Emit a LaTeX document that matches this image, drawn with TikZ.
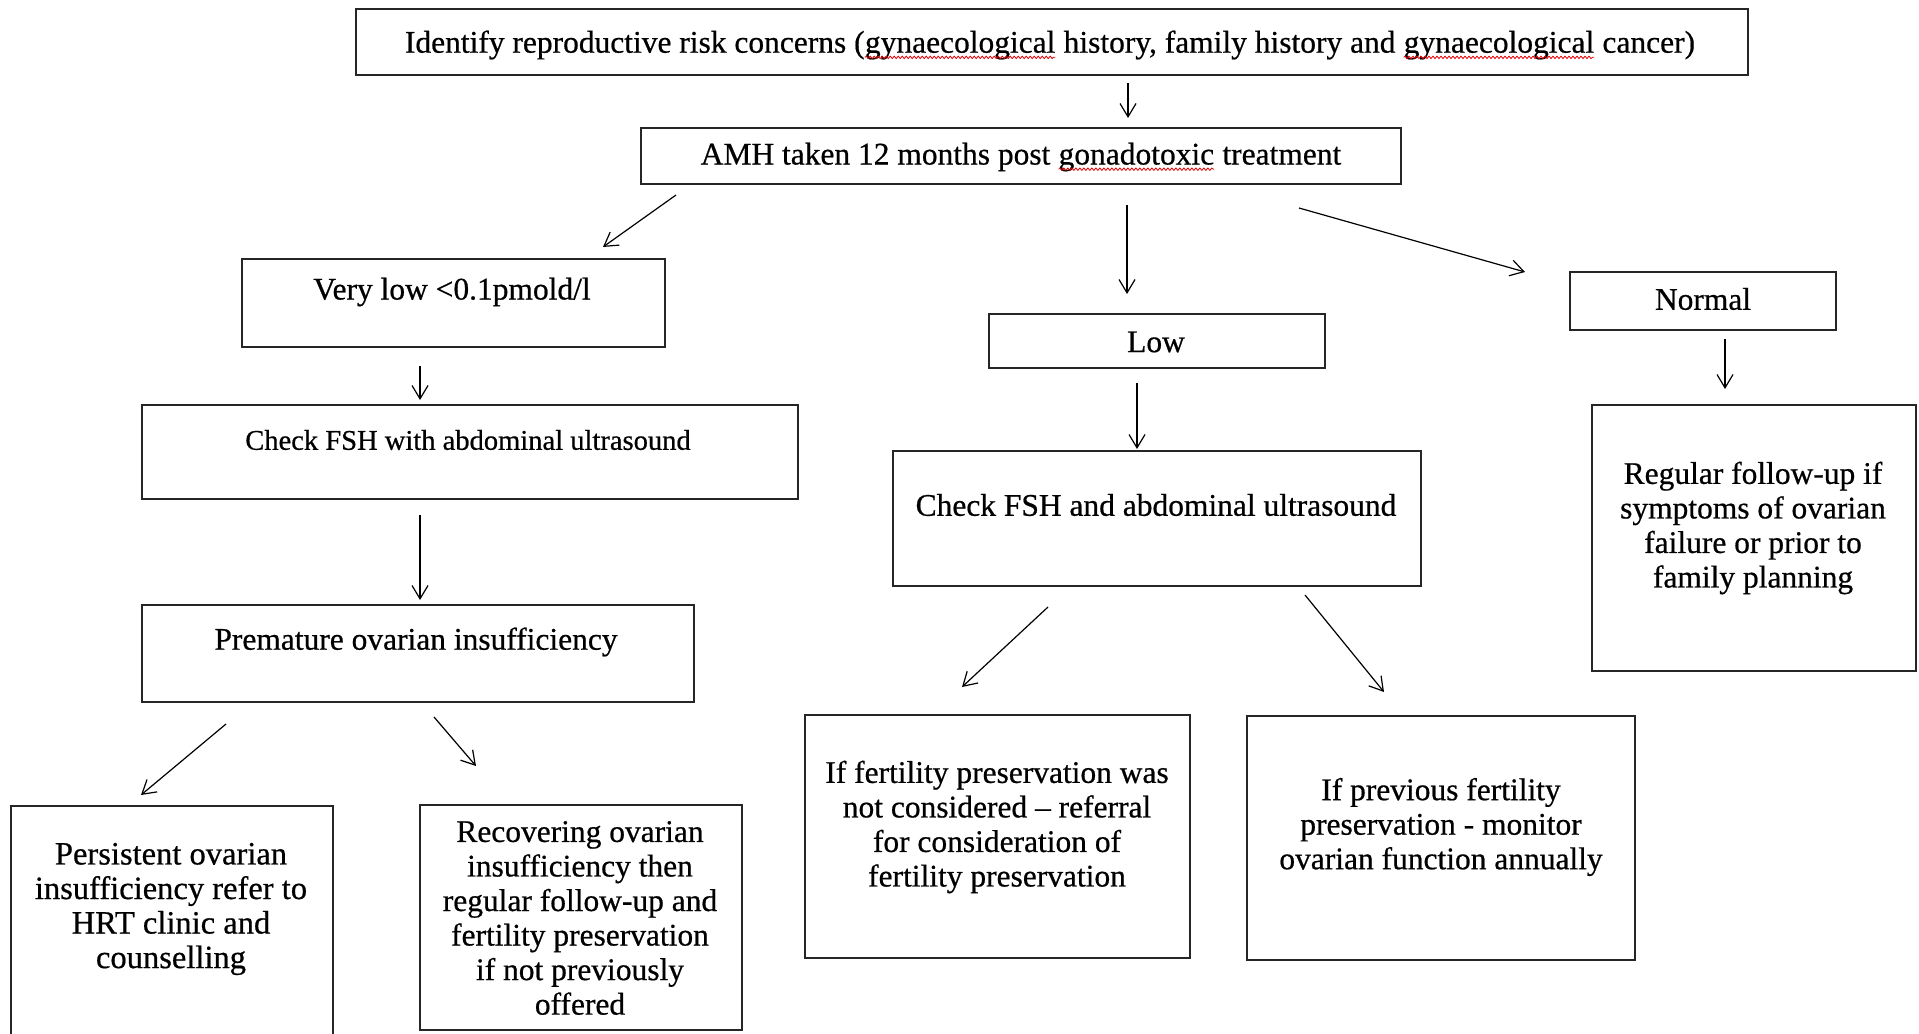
\documentclass[tikz,border=0pt]{standalone}
\usepackage{fontspec}
\setmainfont[FakeBold=0.6]{Liberation Serif}
\usetikzlibrary{arrows.meta,decorations.pathmorphing}
\tikzset{
  box/.style={draw=black!85, line width=1.3pt, inner sep=0pt, outer sep=0pt},
  txt/.style={inner sep=0pt, align=center, font=\fontsize{23.6}{25.9}\selectfont},
  arr/.style={line width=0.9pt, -{Straight Barb[length=10pt,width=12pt,line width=0.9pt]}},
  squigline/.style={red!90!black, line width=0.6pt, decorate, decoration={snake, amplitude=0.9pt, segment length=3pt}}
}
\newcommand\squig[1]{\tikz[baseline=(sqw.base)]{\node[inner sep=0pt, outer sep=0pt, anchor=base] (sqw) {#1};
  \draw[squigline] ([yshift=-3.5pt]sqw.base west) -- ([yshift=-3.5pt]sqw.base east);}}
\newcommand\bx[5]{\node[box, minimum width={(#4-#2)*0.75pt}, minimum height={(#5-#3)*0.75pt}] (#1) at ({(#2+#4)/2},{(#3+#5)/2}) {};}
\begin{document}
\begin{tikzpicture}[x=0.75pt, y=-0.75pt]
\useasboundingbox (0,0) rectangle (1919,1034);
% boxes
\bx{top}{356}{9}{1748}{75}
\bx{amh}{641}{128}{1401}{184}
\bx{vlow}{242}{259}{665}{347}
\bx{fshone}{142}{405}{798}{499}
\bx{poi}{142}{605}{694}{702}
\bx{pers}{11}{806}{333}{1045}
\bx{recov}{420}{805}{742}{1030}
\bx{low}{989}{314}{1325}{368}
\bx{fshtwo}{893}{451}{1421}{586}
\bx{fpnot}{805}{715}{1190}{958}
\bx{fpprev}{1247}{716}{1635}{960}
\bx{normal}{1570}{272}{1836}{330}
\bx{regular}{1592}{405}{1916}{671}
% texts
\node[txt] (topt) at (1050,45) {Identify reproductive risk concerns (\squig{gynaecological} history, family history and \squig{gynaecological} cancer)};
\node[txt] (amht) at (1021,157) {AMH taken 12 months post \squig{gonadotoxic} treatment};
\node[txt] (vlowt) at (452,292) {Very low <0.1pmold/l};
\node[txt, font=\fontsize{21.4}{25.9}\selectfont] (fshonet) at (468,440) {Check FSH with abdominal ultrasound};
\node[txt] (poit) at (416,642) {Premature ovarian insufficiency};
\node[txt, font=\fontsize{24.4}{25.9}\selectfont] (perst) at (171,909) {Persistent ovarian\\insufficiency refer to\\HRT clinic and\\counselling};
\node[txt] (recovt) at (580,918) {Recovering ovarian\\insufficiency then\\regular follow-up and\\fertility preservation\\if not previously\\offered};
\node[txt] (lowt) at (1156,342) {Low};
\node[txt] (fshtwot) at (1156,505) {Check FSH and abdominal ultrasound};
\node[txt] (fpnott) at (997,827) {If fertility preservation was\\not considered -- referral\\for consideration of\\fertility preservation};
\node[txt] (fpprevt) at (1441,827) {If previous fertility\\preservation - monitor\\ovarian function annually};
\node[txt] (normalt) at (1703,299) {Normal};
\node[txt] (regulart) at (1753,528) {Regular follow-up if\\symptoms of ovarian\\failure or prior to\\family planning};
% arrow end points
\coordinate (a1s) at (1128,83);  \coordinate (a1e) at (1128,118);
\coordinate (a2s) at (676,195);  \coordinate (a2e) at (603,247);
\coordinate (a3s) at (1127,205); \coordinate (a3e) at (1127,294);
\coordinate (a4s) at (1299,208); \coordinate (a4e) at (1525,272);
\coordinate (a5s) at (420,366);  \coordinate (a5e) at (420,400);
\coordinate (a6s) at (420,515);  \coordinate (a6e) at (420,600);
\coordinate (a7s) at (226,724);  \coordinate (a7e) at (141,795);
\coordinate (a8s) at (434,717);  \coordinate (a8e) at (476,766);
\coordinate (a9s) at (1137,383); \coordinate (a9e) at (1137,449);
\coordinate (a10s) at (1048,607); \coordinate (a10e) at (962,687);
\coordinate (a11s) at (1305,595); \coordinate (a11e) at (1384,692);
\coordinate (a12s) at (1725,339); \coordinate (a12e) at (1725,389);
\foreach \i in {1,...,12} {\draw[arr] (a\i s) -- (a\i e);}
\end{tikzpicture}
\end{document}
